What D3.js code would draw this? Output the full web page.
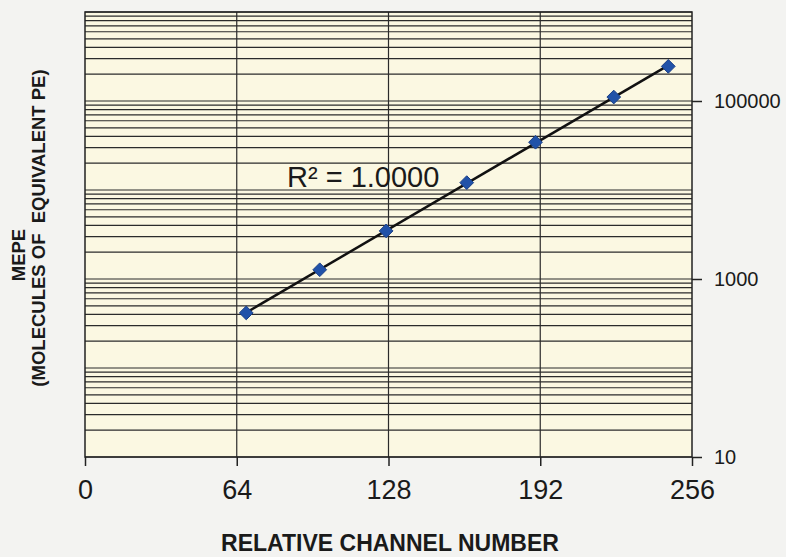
<!DOCTYPE html>
<html lang="en">
<head>
<meta charset="UTF-8">
<title>MEPE calibration</title>
<script src="https://d3js.org/d3.v7.min.js"></script>
<style>
  body { margin: 0; background: #f3f3f1; }
  svg { display: block; }
  text { font-family: "Liberation Sans", Arial, sans-serif; fill: #1a1a1a; }
</style>
</head>
<body>
<svg></svg>
<script>
// values
var channels = [68, 99, 127, 161, 190, 223, 246];
var mepe = [416, 1270, 3470, 12100, 34400, 110800, 245000];
var xTicks = [0, 64, 128, 192, 256];
var xGrid = [64, 128, 192];
var yLabelTicks = [10, 1000, 100000];
var rSquaredText = "R\u00b2 = 1.0000";

var width = 786, height = 557;
var plot = {left: 85, right: 692, top: 12, bottom: 457};

var svg = d3.select("svg").attr("width", width).attr("height", height);

var x = d3.scaleLinear().domain([0, 256]).range([plot.left, plot.right]);
var y = d3.scaleLog().domain([10, 1000000]).range([plot.bottom, plot.top]);

// plot background
svg.append("rect")
    .attr("x", plot.left).attr("y", plot.top)
    .attr("width", plot.right - plot.left).attr("height", plot.bottom - plot.top)
    .attr("fill", "#fbf8e2");

// horizontal gridlines, every 1..9 of each decade
var yGrid = [];
[10, 100, 1000, 10000, 100000].forEach(function(d){
    for (var k = 1; k < 10; k++) yGrid.push(d * k);
});
yGrid.push(1000000);

svg.append("g").selectAll("line")
    .data(yGrid)
    .enter().append("line")
    .attr("x1", plot.left).attr("x2", plot.right)
    .attr("y1", function(d){ return y(d); })
    .attr("y2", function(d){ return y(d); })
    .attr("stroke", "#2b2b2b")
    .attr("stroke-width", 1.2);

svg.append("g").selectAll("line")
    .data(xGrid)
    .enter().append("line")
    .attr("x1", function(d){ return x(d); })
    .attr("x2", function(d){ return x(d); })
    .attr("y1", plot.top).attr("y2", plot.bottom)
    .attr("stroke", "#2b2b2b")
    .attr("stroke-width", 1.2);

// plot border
svg.append("rect")
    .attr("x", plot.left).attr("y", plot.top)
    .attr("width", plot.right - plot.left).attr("height", plot.bottom - plot.top)
    .attr("fill", "none")
    .attr("stroke", "#222")
    .attr("stroke-width", 1.5);

// bottom axis
var xAxis = d3.axisBottom(x).tickValues(xTicks).tickSize(9).tickPadding(14);
var gx = svg.append("g")
    .attr("transform", "translate(0," + plot.bottom + ")")
    .call(xAxis);
gx.select(".domain").remove();
gx.selectAll(".tick line").attr("stroke", "#222").attr("stroke-width", 1.5);
gx.selectAll(".tick text")
    .attr("font-size", 27)
    .attr("fill", "#1a1a1a")
    .style("font-family", "'Liberation Sans', Arial, sans-serif");

// right axis
var yAxis = d3.axisRight(y).tickValues(yLabelTicks).tickFormat(d3.format("d"))
    .tickSize(10).tickPadding(12);
var gy = svg.append("g")
    .attr("transform", "translate(" + plot.right + ",0)")
    .call(yAxis);
gy.select(".domain").remove();
gy.selectAll(".tick line").attr("stroke", "#222").attr("stroke-width", 1.5);
gy.selectAll(".tick text")
    .attr("font-size", 20)
    .attr("fill", "#1a1a1a")
    .style("font-family", "'Liberation Sans', Arial, sans-serif");

// exponential trendline (least squares in log space)
var ly = mepe.map(function(v){ return Math.log10(v); });
var mx = d3.mean(channels), my = d3.mean(ly);
var sxy = d3.sum(channels, function(c, i){ return (c - mx) * (ly[i] - my); });
var sxx = d3.sum(channels, function(c){ return (c - mx) * (c - mx); });
var slope = sxy / sxx, intercept = my - slope * mx;
var xEnds = d3.extent(channels);

svg.append("line")
    .attr("x1", x(xEnds[0]))
    .attr("y1", y(Math.pow(10, intercept + slope * xEnds[0])))
    .attr("x2", x(xEnds[1]))
    .attr("y2", y(Math.pow(10, intercept + slope * xEnds[1])))
    .attr("stroke", "#111")
    .attr("stroke-width", 2.5);

// diamond markers
var diamond = d3.symbol().type(d3.symbolDiamond2).size(120);
svg.append("g").selectAll("path")
    .data(channels)
    .enter().append("path")
    .attr("d", diamond)
    .attr("transform", function(d, i){
        return "translate(" + x(d) + "," + y(mepe[i]) + ")";
    })
    .attr("fill", "#2152a8")
    .attr("stroke", "#1a3f86")
    .attr("stroke-width", 1);

// R² label
svg.append("text")
    .attr("x", 287).attr("y", 187)
    .attr("font-size", 29)
    .text(rSquaredText);

// axis titles
svg.append("text")
    .attr("x", 390).attr("y", 551)
    .attr("text-anchor", "middle")
    .attr("font-size", 23)
    .attr("font-weight", "bold")
    .text("RELATIVE CHANNEL NUMBER");

svg.append("text")
    .attr("transform", "translate(25,255) rotate(-90)")
    .attr("text-anchor", "middle")
    .attr("font-size", 18.5)
    .attr("font-weight", "bold")
    .text("MEPE");

svg.append("text")
    .attr("transform", "translate(45,228) rotate(-90)")
    .attr("text-anchor", "middle")
    .attr("font-size", 18.5)
    .attr("font-weight", "bold")
    .style("white-space", "pre")
    .text("(MOLECULES OF  EQUIVALENT PE)");
</script>
</body>
</html>
